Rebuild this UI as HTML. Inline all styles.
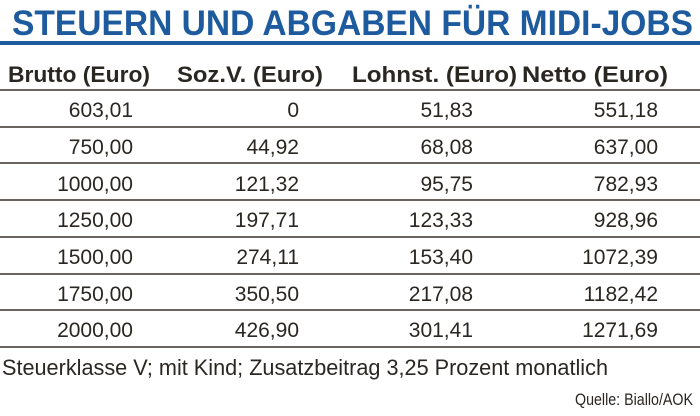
<!DOCTYPE html>
<html><head><meta charset="utf-8"><style>
html,body{margin:0;padding:0;background:#fff;}
svg{display:block;}
text{font-family:"Liberation Sans Narrow","Liberation Sans",sans-serif;}
</style></head><body>
<svg width="700" height="416" viewBox="0 0 700 416" xmlns="http://www.w3.org/2000/svg">
<rect width="700" height="416" fill="#fff"/>
<text x="12" y="35" font-size="35" font-weight="bold" fill="#1d5a9e" textLength="681" lengthAdjust="spacingAndGlyphs">STEUERN UND ABGABEN FÜR MIDI-JOBS</text>
<rect x="0" y="41" width="700" height="4" fill="#1d5a9e"/>
<g font-size="22" font-weight="bold" fill="#2a2622">
<text x="8" y="82" textLength="142" lengthAdjust="spacingAndGlyphs">Brutto (Euro)</text>
<text x="177" y="82" textLength="146" lengthAdjust="spacingAndGlyphs">Soz.V. (Euro)</text>
<text x="352" y="82" textLength="165" lengthAdjust="spacingAndGlyphs">Lohnst. (Euro)</text>
<text x="522" y="82" textLength="146" lengthAdjust="spacingAndGlyphs">Netto (Euro)</text>
</g>
<g stroke="#6a6460" stroke-width="2">
<line x1="0" y1="90" x2="700" y2="90"/>
<line x1="0" y1="127" x2="700" y2="127"/>
<line x1="0" y1="163" x2="700" y2="163"/>
<line x1="0" y1="200" x2="700" y2="200"/>
<line x1="0" y1="237" x2="700" y2="237"/>
<line x1="0" y1="274" x2="700" y2="274"/>
<line x1="0" y1="310" x2="700" y2="310"/>
<line x1="0" y1="347" x2="700" y2="347"/>
</g>
<g font-size="21" fill="#2a2622" text-anchor="end">
<g transform="translate(133,0)">
<text y="117">603,01</text><text y="154">750,00</text><text y="191">1000,00</text><text y="227">1250,00</text><text y="264">1500,00</text><text y="301">1750,00</text><text y="337">2000,00</text></g>
<g transform="translate(299,0)">
<text y="117">0</text><text y="154">44,92</text><text y="191">121,32</text><text y="227">197,71</text><text y="264">274,11</text><text y="301">350,50</text><text y="337">426,90</text></g>
<g transform="translate(473,0)">
<text y="117">51,83</text><text y="154">68,08</text><text y="191">95,75</text><text y="227">123,33</text><text y="264">153,40</text><text y="301">217,08</text><text y="337">301,41</text></g>
<g transform="translate(658,0)">
<text y="117">551,18</text><text y="154">637,00</text><text y="191">782,93</text><text y="227">928,96</text><text y="264">1072,39</text><text y="301">1182,42</text><text y="337">1271,69</text></g>
</g>
<text x="2" y="375" font-size="22" fill="#2a2622" textLength="606" lengthAdjust="spacingAndGlyphs">Steuerklasse V; mit Kind; Zusatzbeitrag 3,25 Prozent monatlich</text>
<text x="575" y="405" font-size="17" fill="#2a2622" textLength="118" lengthAdjust="spacingAndGlyphs">Quelle: Biallo/AOK</text>
</svg>
</body></html>
